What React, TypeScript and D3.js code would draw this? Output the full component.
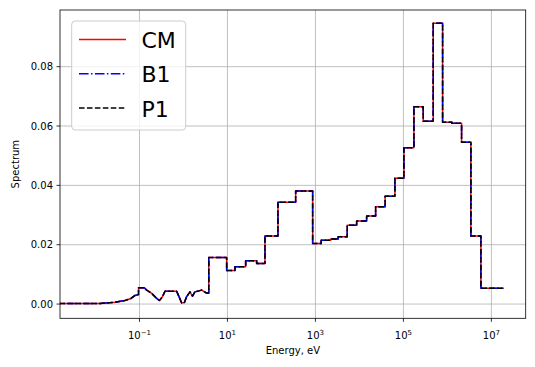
import React from "react";
import * as d3 from "d3";

// Low-energy (fine-group) part of the spectrum: energy (eV) and value
const lowEnergy = [1e-3, 0.0126, 0.0277, 0.0468, 0.0641, 0.0791, 0.095, 0.095, 0.1286, 0.1458, 0.1893, 0.246, 0.285, 0.33, 0.38, 0.7, 0.791, 0.91, 1.042, 1.18, 1.405, 1.6, 1.82, 2.59, 3.37, 3.76];
const lowSpectrum = [0.0002, 0.0002, 0.0006, 0.0012, 0.0019, 0.0029, 0.0032, 0.0055, 0.0055, 0.0047, 0.0036, 0.0019, 0.0012, 0.0024, 0.0043, 0.0043, 0.0025, 0.0004, 0.0004, 0.0025, 0.0041, 0.0027, 0.0041, 0.0047, 0.0037, 0.0037];

// Coarse groups: edges (eV) and group values
const groupEdges = [3.76, 9.59, 14.8, 25.9, 46.1, 71.2, 140.6, 355, 864, 1355, 2215, 3296, 5280, 8640, 14580, 23350, 38370, 64100, 102600, 173300, 281800, 475500, 777800, 1266000, 2100000, 3420000, 5770000, 19200000];
const groupValues = [0.0157, 0.0113, 0.0126, 0.0146, 0.0137, 0.0229, 0.0343, 0.0381, 0.0204, 0.0215, 0.0219, 0.0227, 0.0266, 0.028, 0.0297, 0.0328, 0.0363, 0.0424, 0.0527, 0.0665, 0.0616, 0.0946, 0.0613, 0.0609, 0.0545, 0.0229, 0.0053];

const seriesNames = ["CM", "B1", "P1"];
const seriesColors = ["#ff0000", "#0000ff", "#000000"];
const seriesDash = ["none", "9.6,2.4,1.5,2.4", "5.55,2.4"];

const xTickExps = [-1, 1, 3, 5, 7];
const yTicks = [0, 0.02, 0.04, 0.06, 0.08];

const W = 535, H = 367;
const L = 60, R = 525.7, T = 10, B = 318.3;
const FONT = "DejaVu Sans, sans-serif";

export default function App() {
  const x = d3.scaleLog().domain([Math.pow(10, -2.807), Math.pow(10, 7.78)]).range([L, R]);
  const y = d3.scaleLinear().domain([-0.0048, 0.0991]).range([B, T]);

  const pts: [number, number][] = lowEnergy.map((e, i) => [e, lowSpectrum[i]]);
  groupValues.forEach((v, i) => {
    pts.push([groupEdges[i], v]);
    pts.push([groupEdges[i + 1], v]);
  });
  const line = d3.line<[number, number]>().x(d => x(d[0])).y(d => y(d[1]));
  const path = line(pts) || "";

  return (
    <svg width={W} height={H} style={{ position: "absolute", left: 0, top: 0, background: "#fff" }} fontFamily={FONT}>
      <defs>
        <clipPath id="plotclip">
          <rect x={L} y={T} width={R - L} height={B - T} />
        </clipPath>
      </defs>
      <rect x={0} y={0} width={W} height={H} fill="#fff" />
      {/* grid */}
      {xTickExps.map(e => (
        <line key={"gx" + e} x1={x(Math.pow(10, e))} x2={x(Math.pow(10, e))} y1={T} y2={B} stroke="#b0b0b0" strokeWidth={0.8} />
      ))}
      {yTicks.map(t => (
        <line key={"gy" + t} x1={L} x2={R} y1={y(t)} y2={y(t)} stroke="#b0b0b0" strokeWidth={0.8} />
      ))}
      {/* series */}
      <g clipPath="url(#plotclip)">
        {seriesNames.map((n, i) => (
          <path key={n} d={path} fill="none" stroke={seriesColors[i]} strokeWidth={1.5}
            strokeDasharray={seriesDash[i]} strokeLinejoin="round" />
        ))}
      </g>
      {/* spines */}
      <rect x={L} y={T} width={R - L} height={B - T} fill="none" stroke="#000" strokeWidth={0.8} />
      {/* x ticks */}
      {xTickExps.map(e => {
        const px = x(Math.pow(10, e));
        const ex = e < 0 ? "\u2212" + Math.abs(e) : String(e);
        return (
          <g key={"xt" + e}>
            <line x1={px} x2={px} y1={B} y2={B + 3.5} stroke="#000" strokeWidth={0.8} />
            <text x={px} y={339} textAnchor="middle" fontSize={10} fill="#000">
              <tspan>10</tspan>
              <tspan dy={-4.2} fontSize={7}>{ex}</tspan>
            </text>
          </g>
        );
      })}
      {/* y ticks */}
      {yTicks.map(t => (
        <g key={"yt" + t}>
          <line x1={L - 3.5} x2={L} y1={y(t)} y2={y(t)} stroke="#000" strokeWidth={0.8} />
          <text x={L - 7} y={y(t) + 3.6} textAnchor="end" fontSize={10} fill="#000">{t.toFixed(2)}</text>
        </g>
      ))}
      {/* axis labels */}
      <text x={(L + R) / 2} y={354} textAnchor="middle" fontSize={10} fill="#000">Energy, eV</text>
      <text transform={`translate(18.5,${(T + B) / 2}) rotate(-90)`} textAnchor="middle" fontSize={10} fill="#000">Spectrum</text>
      {/* legend */}
      <rect x={71.7} y={21} width={114} height={109} rx={3.5} ry={3.5} fill="#fff" fillOpacity={0.8} stroke="#cccccc" strokeWidth={1} />
      {seriesNames.map((n, i) => {
        const ly = 39.5 + i * 34.3;
        return (
          <g key={"lg" + n}>
            <line x1={79} x2={126} y1={ly} y2={ly} stroke={seriesColors[i]} strokeWidth={1.5} strokeDasharray={seriesDash[i]} />
            <text x={141.5} y={ly + 8.6} fontSize={22} fill="#000">{n}</text>
          </g>
        );
      })}
    </svg>
  );
}
